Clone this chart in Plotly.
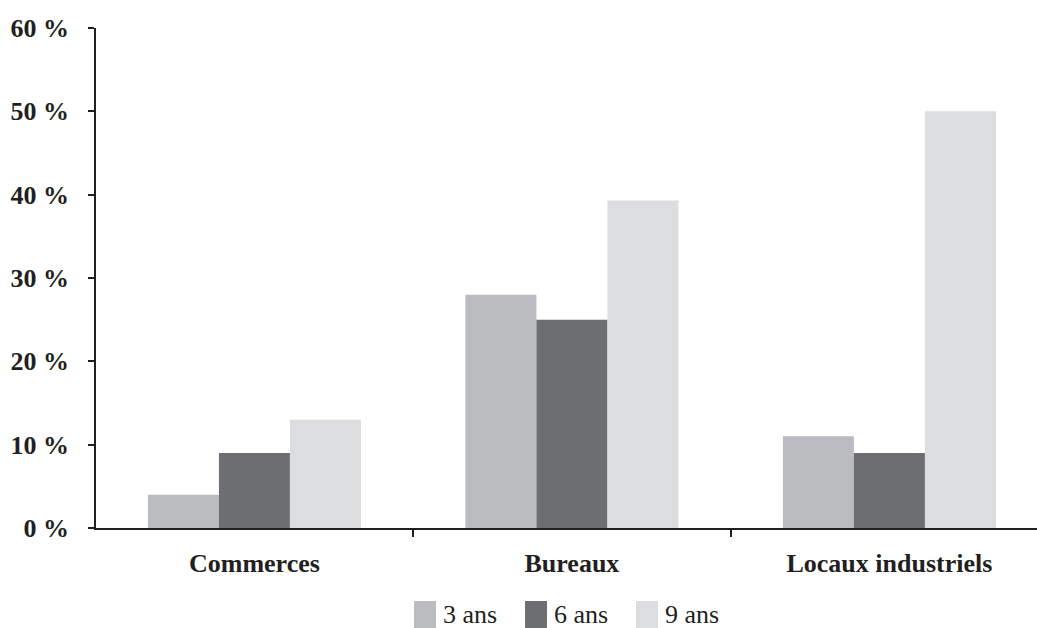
import plotly.graph_objects as go

# Catégories et séries
categories = ["Commerces", "Bureaux", "Locaux industriels"]
series_names = ["3 ans", "6 ans", "9 ans"]
values_3ans = [4, 28, 11]
values_6ans = [9, 25, 9]
values_9ans = [13, 39.3, 50]
y_tickvals = [0, 10, 20, 30, 40, 50, 60]
y_ticktext = ["0 %", "10 %", "20 %", "30 %", "40 %", "50 %", "60 %"]

colors = ["#bbbcbf", "#6d6e72", "#dcdddf"]
ink = "#231f20"
serif = "Liberation Serif, Times New Roman, serif"

W, H = 1037, 628
M_L, M_R, M_T, M_B = 96, 0, 28, 100
plot_w = W - M_L - M_R
plot_h = H - M_T - M_B
cat_px = 317.5
x_start = -0.499

fig = go.Figure()
for name, vals, col in zip(series_names, [values_3ans, values_6ans, values_9ans], colors):
    fig.add_trace(go.Bar(
        x=categories, y=vals, name=name,
        marker=dict(color=col, line=dict(width=0)),
        showlegend=False,
    ))

# Légende dessinée à la main (pastilles plus grandes que celles de Plotly)
def px_x(px):
    return (px - M_L) / plot_w

def px_y(py):
    return (H - M_B - py) / plot_h

shapes = []
annotations = []
leg_x0 = 414
leg_step = 111
for i, (name, col) in enumerate(zip(series_names, colors)):
    x0 = leg_x0 + i * leg_step
    shapes.append(dict(
        type="rect", xref="paper", yref="paper",
        x0=px_x(x0), x1=px_x(x0 + 22), y0=px_y(628), y1=px_y(601),
        fillcolor=col, line=dict(width=0), layer="above",
    ))
    annotations.append(dict(
        text=name, xref="paper", yref="paper",
        x=px_x(x0 + 27), y=px_y(614), xanchor="left", yanchor="middle",
        showarrow=False, font=dict(family=serif, size=26, color=ink),
    ))

fig.update_layout(
    width=W, height=H,
    margin=dict(l=M_L, r=M_R, t=M_T, b=M_B, pad=0),
    paper_bgcolor="white", plot_bgcolor="white",
    barmode="group", bargap=0.329, bargroupgap=0,
    shapes=shapes, annotations=annotations,
    xaxis=dict(
        type="category",
        range=[x_start, x_start + plot_w / cat_px],
        showline=True, linecolor=ink, linewidth=1.5,
        ticks="outside", tickson="boundaries", ticklen=7, tickcolor=ink, tickwidth=1.5,
        showgrid=False, zeroline=False,
        tickfont=dict(family=serif, size=26, color=ink, weight="bold"),
        ticklabelstandoff=11,
    ),
    yaxis=dict(
        range=[0, 60],
        tickvals=y_tickvals, ticktext=y_ticktext,
        showline=True, linecolor=ink, linewidth=1.5,
        ticks="outside", ticklen=6, tickcolor=ink, tickwidth=1.5,
        showgrid=False, zeroline=False,
        tickfont=dict(family=serif, size=26, color=ink, weight="bold"),
        ticklabelstandoff=14,
    ),
)

fig.write_html("out.html")
